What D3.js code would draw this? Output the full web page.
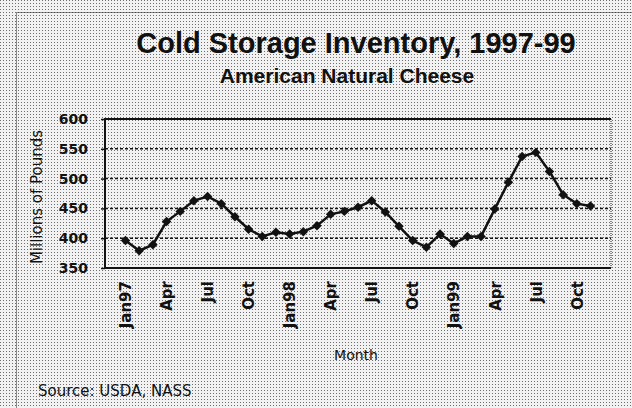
<!DOCTYPE html>
<html>
<head>
<meta charset="utf-8">
<script src="https://cdn.jsdelivr.net/npm/d3@7/dist/d3.min.js"></script>
<style>
  body { margin: 0; background: #fff; }
  svg { display: block; }
</style>
</head>
<body>
<svg width="632" height="408"></svg>
<script>
// monthly cold storage stocks, millions of pounds
const months = [
  'Jan97', 'Feb97', 'Mar97', 'Apr97', 'May97', 'Jun97', 'Jul97', 'Aug97', 'Sep97', 'Oct97', 'Nov97', 'Dec97',
  'Jan98', 'Feb98', 'Mar98', 'Apr98', 'May98', 'Jun98', 'Jul98', 'Aug98', 'Sep98', 'Oct98', 'Nov98', 'Dec98',
  'Jan99', 'Feb99', 'Mar99', 'Apr99', 'May99', 'Jun99', 'Jul99', 'Aug99', 'Sep99', 'Oct99', 'Nov99'
]
const inventory = [
  396, 379, 389, 428, 445, 463, 470, 458, 436, 415, 403, 410,
  407, 411, 421, 440, 445, 452, 463, 444, 420, 396, 385, 407,
  391, 403, 403, 449, 494, 537, 544, 512, 473, 458, 454
]
const tickMonths = ['Jan97', 'Apr97', 'Jul97', 'Oct97', 'Jan98', 'Apr98', 'Jul98', 'Oct98', 'Jan99', 'Apr99', 'Jul99', 'Oct99']
const tickLabels = ['Jan97', 'Apr', 'Jul', 'Oct', 'Jan98', 'Apr', 'Jul', 'Oct', 'Jan99', 'Apr', 'Jul', 'Oct']
const yTicks = [350, 400, 450, 500, 550, 600]

const data = months.map((m, i) => ({ month: m, value: inventory[i] }))

let svg = d3.select('svg')
let margin = { top: 119, right: 21, bottom: 140, left: 105 }
let width = +svg.attr('width') - margin.left - margin.right
let height = +svg.attr('height') - margin.top - margin.bottom

const titleFont = '"Liberation Sans", Arial, sans-serif'
const labelFont = '"DejaVu Sans", Verdana, sans-serif'

// halftone-ish dotted background
let defs = svg.append('defs')
let pat = defs.append('pattern')
  .attr('id', 'dots')
  .attr('width', 3).attr('height', 3)
  .attr('patternUnits', 'userSpaceOnUse')
pat.append('rect').attr('width', 3).attr('height', 3).attr('fill', '#f2f2f2')
pat.append('rect').attr('width', 1).attr('height', 1).attr('fill', '#6e6e6e')

svg.append('rect')
  .attr('width', 632).attr('height', 408)
  .attr('fill', 'url(#dots)')

// outer frame, runs off the right and bottom edge
svg.append('rect')
  .attr('x', 16.5).attr('y', 12.5)
  .attr('width', 700).attr('height', 500)
  .attr('fill', 'none')
  .attr('stroke', '#222')
  .attr('stroke-dasharray', '1,1')

let x = d3.scalePoint().domain(months).range([0, width]).padding(1.5)
let y = d3.scaleLinear().domain([350, 600]).range([height, 0])

let g = svg.append('g').attr('transform', `translate(${margin.left},${margin.top})`)

// gridlines
g.selectAll('.grid')
  .data(yTicks.filter(v => v > 350 && v < 600))
  .enter().append('line')
  .attr('class', 'grid')
  .attr('x1', 0).attr('x2', width)
  .attr('y1', d => y(d)).attr('y2', d => y(d))
  .attr('stroke', '#111')
  .attr('stroke-width', 1.5)
  .attr('stroke-dasharray', '3,2')

// plot border: solid on top/left/bottom, dotted on the right
g.append('path')
  .attr('d', `M${width},0H0V${height}H${width}`)
  .attr('fill', 'none')
  .attr('stroke', '#111')
  .attr('stroke-width', 2)
g.append('line')
  .attr('x1', width).attr('x2', width)
  .attr('y1', 0).attr('y2', height)
  .attr('stroke', '#222')
  .attr('stroke-dasharray', '1,1')

// y axis
let yAxis = g.append('g')
  .call(d3.axisLeft(y).tickValues(yTicks).tickSize(4).tickPadding(13))
yAxis.select('.domain').remove()
yAxis.selectAll('line').attr('stroke', '#111').attr('stroke-width', 1.5)
yAxis.selectAll('text')
  .attr('font-family', labelFont)
  .attr('font-weight', 'bold')
  .attr('font-size', '14px')
  .attr('fill', '#111')

// x axis, labels turned on their side
let xAxis = g.append('g')
  .attr('transform', `translate(0,${height})`)
  .call(d3.axisBottom(x).tickValues(tickMonths).tickSize(0)
    .tickFormat(d => tickLabels[tickMonths.indexOf(d)]))
xAxis.select('.domain').remove()
xAxis.selectAll('text')
  .attr('transform', 'rotate(-90)')
  .attr('text-anchor', 'end')
  .attr('x', -13)
  .attr('y', 0)
  .attr('dy', '0.35em')
  .attr('font-family', labelFont)
  .attr('font-weight', 'bold')
  .attr('font-size', '15px')
  .attr('fill', '#111')

// the series
let line = d3.line()
  .x(d => x(d.month))
  .y(d => y(d.value))

g.append('path')
  .datum(data)
  .attr('fill', 'none')
  .attr('stroke', '#111')
  .attr('stroke-width', 2.5)
  .attr('d', line)

g.selectAll('.marker')
  .data(data)
  .enter().append('path')
  .attr('class', 'marker')
  .attr('d', d3.symbol().type(d3.symbolSquare).size(45))
  .attr('transform', d => `translate(${x(d.month)},${y(d.value)}) rotate(45)`)
  .attr('fill', '#111')

// titles and labels
svg.append('text')
  .attr('x', 356).attr('y', 53)
  .attr('text-anchor', 'middle')
  .attr('font-family', titleFont)
  .attr('font-weight', 'bold')
  .attr('font-size', '29px')
  .attr('fill', '#111')
  .text('Cold Storage Inventory, 1997-99')

svg.append('text')
  .attr('x', 347).attr('y', 83)
  .attr('text-anchor', 'middle')
  .attr('font-family', titleFont)
  .attr('font-weight', 'bold')
  .attr('font-size', '21px')
  .attr('fill', '#111')
  .text('American Natural Cheese')

svg.append('text')
  .attr('transform', 'translate(42,197) rotate(-90)')
  .attr('text-anchor', 'middle')
  .attr('font-family', labelFont)
  .attr('font-size', '15px')
  .attr('fill', '#111')
  .text('Millions of Pounds')

svg.append('text')
  .attr('x', 356).attr('y', 360)
  .attr('text-anchor', 'middle')
  .attr('font-family', labelFont)
  .attr('font-size', '14px')
  .attr('fill', '#111')
  .text('Month')

svg.append('text')
  .attr('x', 38).attr('y', 396)
  .attr('font-family', labelFont)
  .attr('font-size', '15px')
  .attr('fill', '#111')
  .text('Source: USDA, NASS')
</script>
</body>
</html>
